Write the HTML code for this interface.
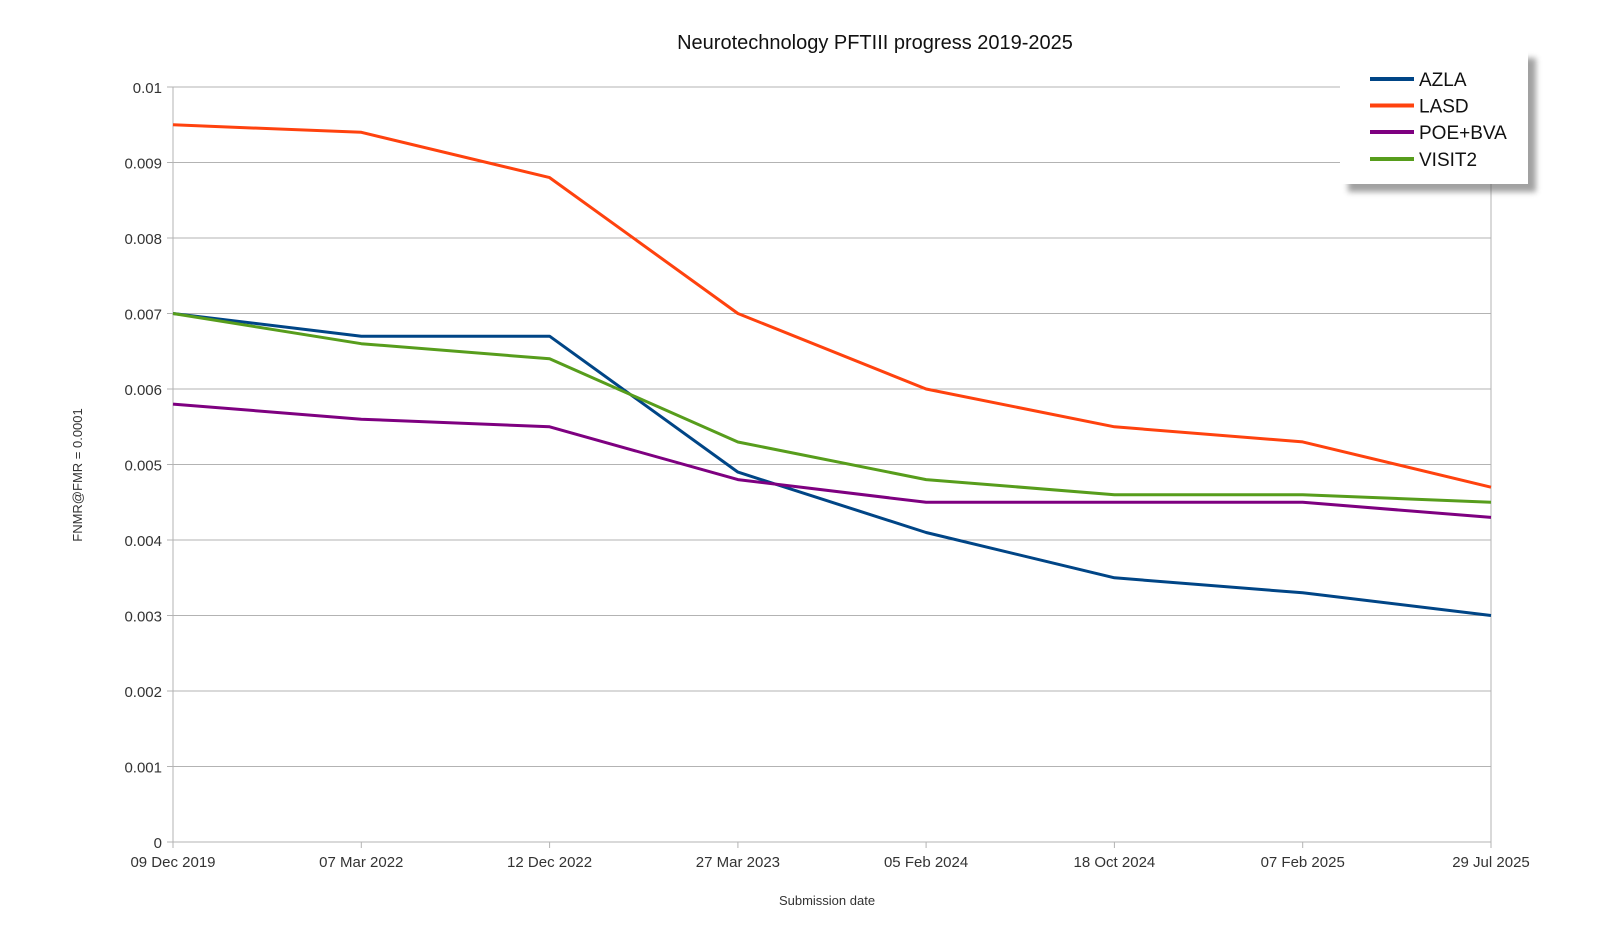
<!DOCTYPE html>
<html><head><meta charset="utf-8"><style>
body{margin:0;background:#fff;}
svg{display:block;font-family:"Liberation Sans",sans-serif;}
</style></head><body>
<svg width="1600" height="932" xmlns="http://www.w3.org/2000/svg">
<defs><filter id="b"><feGaussianBlur stdDeviation="3"/></filter></defs>
<rect width="1600" height="932" fill="#fff"/>
<text x="875" y="49" font-size="20" text-anchor="middle" fill="#111">Neurotechnology PFTIII progress 2019-2025</text>
<g stroke="#b3b3b3" stroke-width="1">
<line x1="167" y1="87" x2="1491" y2="87"/>
<line x1="167" y1="162.5" x2="1491" y2="162.5"/>
<line x1="167" y1="238" x2="1491" y2="238"/>
<line x1="167" y1="313.5" x2="1491" y2="313.5"/>
<line x1="167" y1="389" x2="1491" y2="389"/>
<line x1="167" y1="464.5" x2="1491" y2="464.5"/>
<line x1="167" y1="540" x2="1491" y2="540"/>
<line x1="167" y1="615.5" x2="1491" y2="615.5"/>
<line x1="167" y1="691" x2="1491" y2="691"/>
<line x1="167" y1="766.5" x2="1491" y2="766.5"/>
<line x1="167" y1="842" x2="1491" y2="842"/>
<line x1="173" y1="87" x2="173" y2="848"/>
<line x1="1491" y1="87" x2="1491" y2="848"/>
<line x1="361.3" y1="842" x2="361.3" y2="848"/>
<line x1="549.6" y1="842" x2="549.6" y2="848"/>
<line x1="737.9" y1="842" x2="737.9" y2="848"/>
<line x1="926.1" y1="842" x2="926.1" y2="848"/>
<line x1="1114.4" y1="842" x2="1114.4" y2="848"/>
<line x1="1302.7" y1="842" x2="1302.7" y2="848"/>
</g>
<g font-size="15" fill="#333" text-anchor="end">
<text x="162" y="93">0.01</text>
<text x="162" y="168.5">0.009</text>
<text x="162" y="244">0.008</text>
<text x="162" y="319.5">0.007</text>
<text x="162" y="395">0.006</text>
<text x="162" y="470.5">0.005</text>
<text x="162" y="546">0.004</text>
<text x="162" y="621.5">0.003</text>
<text x="162" y="697">0.002</text>
<text x="162" y="772.5">0.001</text>
<text x="162" y="848">0</text>
</g>
<g font-size="15" fill="#333" text-anchor="middle">
<text x="173" y="867">09 Dec 2019</text>
<text x="361.3" y="867">07 Mar 2022</text>
<text x="549.6" y="867">12 Dec 2022</text>
<text x="737.9" y="867">27 Mar 2023</text>
<text x="926.1" y="867">05 Feb 2024</text>
<text x="1114.4" y="867">18 Oct 2024</text>
<text x="1302.7" y="867">07 Feb 2025</text>
<text x="1491" y="867">29 Jul 2025</text>
</g>
<text x="827" y="905" font-size="13" fill="#333" text-anchor="middle">Submission date</text>
<text transform="translate(82,475) rotate(-90)" font-size="13" fill="#333" text-anchor="middle">FNMR@FMR = 0.0001</text>
<g fill="none" stroke-width="3" stroke-linejoin="round">
<polyline stroke="#ff420e" points="173,124.8 361.3,132.3 549.6,177.6 737.9,313.5 926.1,389 1114.4,426.8 1302.7,441.9 1491,487.2"/>
<polyline stroke="#004586" points="173,313.5 361.3,336.2 549.6,336.2 737.9,472.1 926.1,532.5 1114.4,577.8 1302.7,592.8 1491,615.5"/>
<polyline stroke="#579d1c" points="173,313.5 361.3,343.7 549.6,358.8 737.9,442 926.1,479.6 1114.4,494.7 1302.7,494.7 1491,502.3"/>
<polyline stroke="#7e0080" points="173,404.1 361.3,419.2 549.6,426.8 737.9,479.6 926.1,502.3 1114.4,502.3 1302.7,502.3 1491,517.4"/>
</g>
<rect x="1348" y="58" width="188" height="134" fill="#555" opacity="0.55" filter="url(#b)"/>
<rect x="1340" y="50" width="188" height="134" fill="#fff"/>
<g stroke-width="4">
<line x1="1370" y1="79" x2="1414" y2="79" stroke="#004586"/>
<line x1="1370" y1="105.5" x2="1414" y2="105.5" stroke="#ff420e"/>
<line x1="1370" y1="132" x2="1414" y2="132" stroke="#7e0080"/>
<line x1="1370" y1="159" x2="1414" y2="159" stroke="#579d1c"/>
</g>
<g font-size="19" fill="#111">
<text x="1419" y="86">AZLA</text>
<text x="1419" y="112.5">LASD</text>
<text x="1419" y="139">POE+BVA</text>
<text x="1419" y="166">VISIT2</text>
</g>
</svg>
</body></html>
